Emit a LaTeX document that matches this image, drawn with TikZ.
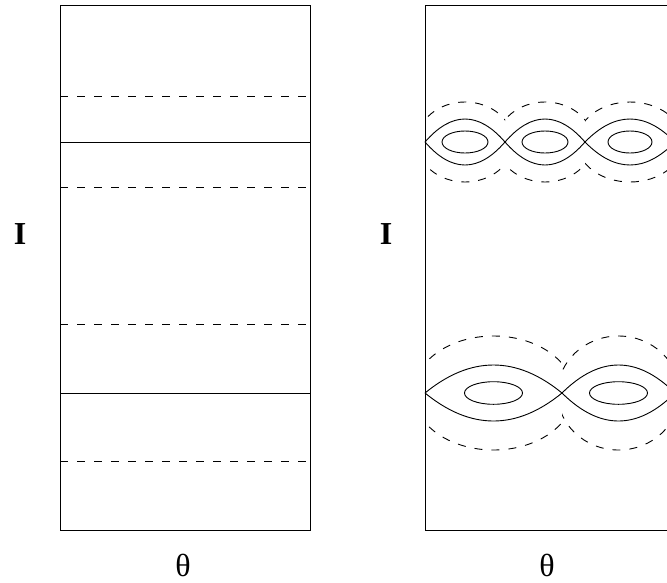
\documentclass[tikz,border=0pt]{standalone}
\usepackage{fontspec}
\setmainfont{Liberation Serif}
\newcommand\mylens[4]{% xL, xR, yc, H
  \draw (#1,#3) .. controls ({#1+(#2-#1)/3},{#3-4/3*#4}) and ({#2-(#2-#1)/3},{#3-4/3*#4}) .. (#2,#3)
        .. controls ({#2-(#2-#1)/3},{#3+4/3*#4}) and ({#1+(#2-#1)/3},{#3+4/3*#4}) .. (#1,#3);}
\newcommand\mydash[5]{% xL, xR, yc, a, b
  \begin{scope}
    \clip (#1,0) rectangle (#2,582);
    \draw[dsh] ({(#1+#2)/2},#3) ellipse [x radius=#4pt, y radius=#5pt];
  \end{scope}}
\begin{document}
\begin{tikzpicture}[x=1pt,y=-1pt,line width=0.9pt,
  dsh/.style={dash pattern=on 8pt off 9pt},
  lbl/.style={font=\fontsize{32}{34}\selectfont,inner sep=0pt}]
\useasboundingbox (0,0) rectangle (667,582);
\clip (0,0) rectangle (667,582);
% left panel
\draw (60,5) rectangle (310,530);
\draw (60,142) -- (310,142);
\draw (60,393) -- (310,393);
\foreach \yy in {96.5,187.8,324.8,461.4}
  \draw[dsh] (60,\yy) -- (310,\yy);
% right panel
\draw (425,5) rectangle (675,530);
% top island chain
\mylens{425}{505}{142}{23}
\mylens{505}{585}{142}{23}
\mylens{585}{675}{142}{23}
\draw (465,142) ellipse [x radius=23pt, y radius=11pt];
\draw (545,142) ellipse [x radius=23pt, y radius=11pt];
\draw (630,142) ellipse [x radius=22pt, y radius=11pt];
\mydash{425}{505}{142}{48}{40}
\mydash{505}{585}{142}{48}{40}
\mydash{585}{675}{142}{53}{40}
% bottom island chain
\mylens{425}{562}{393}{28}
\mylens{562}{675}{393}{28}
\draw (493.5,393) ellipse [x radius=29pt, y radius=11.3pt];
\draw (618.5,393) ellipse [x radius=29pt, y radius=11.3pt];
\mydash{425}{562}{393}{80}{57}
\mydash{562}{675}{393}{61}{57}
% labels
\node[lbl,font=\fontsize{32}{34}\selectfont\bfseries] (Ileft) at (20,234) {I};
\node[lbl,font=\fontsize{32}{34}\selectfont\bfseries] (Iright) at (386,234) {I};
\node[lbl] (thleft) at (183,565) {θ};
\node[lbl] (thright) at (547,565) {θ};
\end{tikzpicture}
\end{document}
